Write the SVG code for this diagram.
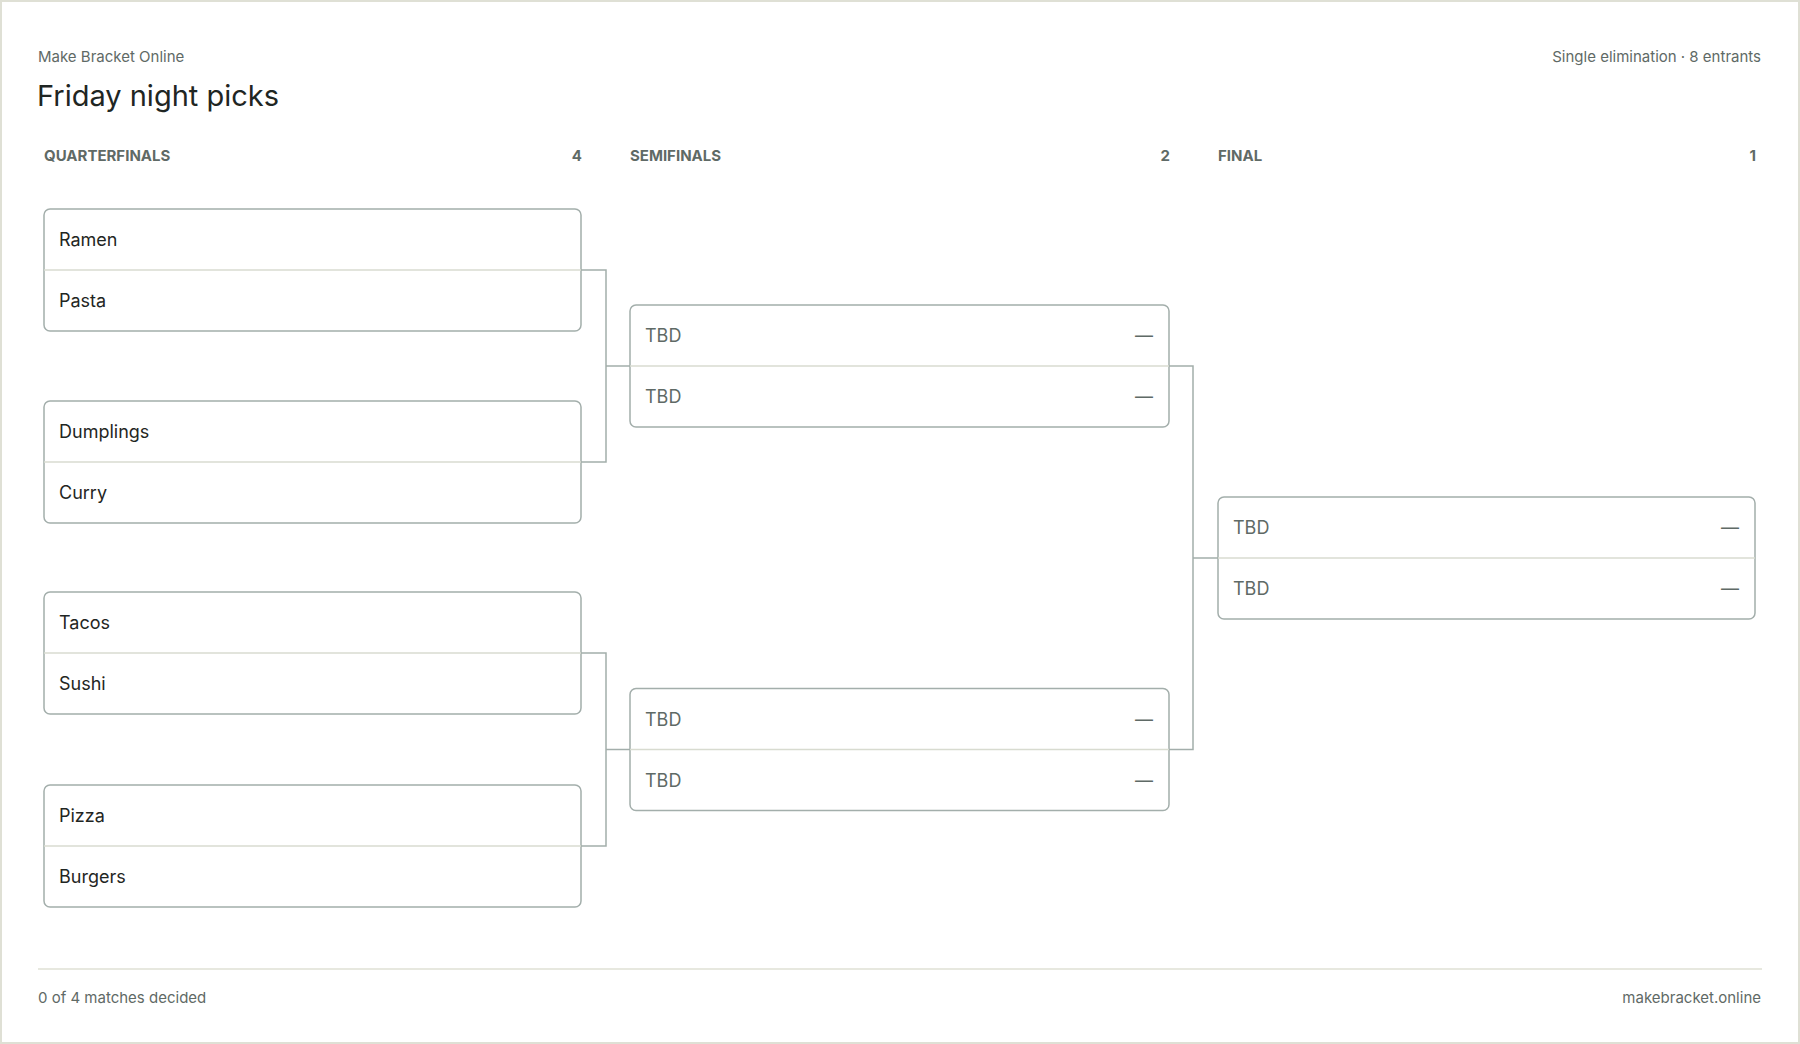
<svg xmlns="http://www.w3.org/2000/svg" width="1800" height="1044" viewBox="0 0 1800 1044">
<style>
text{font-family:"Inter","Liberation Sans",sans-serif}
.box{fill:#fff;stroke:#a3aeab;stroke-width:1.5}
.div{stroke:#d8dbd0;stroke-width:1.5}
.n{font-size:18px;fill:#1f2623}
.t{font-size:18px;fill:#5f6a66}
.h{font-size:15px;font-weight:bold;fill:#5f6a66}
.s{font-size:15px;fill:#5f6a66}
.c{fill:none;stroke:#a3aeab;stroke-width:1.5}
</style>
<rect x="1" y="1" width="1798" height="1042" fill="#fff" stroke="#dfe0d5" stroke-width="2"/>
<text x="38" y="62" class="s">Make Bracket Online</text>
<text x="1761" y="62" class="s" text-anchor="end">Single elimination · 8 entrants</text>
<text x="37" y="106" font-size="29" fill="#1f2623">Friday night picks</text>
<text x="44" y="161" class="h">QUARTERFINALS</text><text x="582" y="161" class="h" text-anchor="end">4</text>
<text x="630" y="161" class="h">SEMIFINALS</text><text x="1170" y="161" class="h" text-anchor="end">2</text>
<text x="1218" y="161" class="h">FINAL</text><text x="1756" y="161" class="h" text-anchor="end">1</text>
<g id="connectors">
<path class="c" d="M581 270H606V462H581M606 366H630"/>
<path class="c" d="M581 653H606V846H581M606 749.5H630"/>
<path class="c" d="M1169 366H1193V749.5H1169M1193 558H1218"/>
</g>
<g id="qf1"><rect class="box" x="44" y="209" width="537" height="122" rx="6"/><line class="div" x1="44" y1="270" x2="581" y2="270"/><text class="n" x="59" y="246">Ramen</text><text class="n" x="59" y="307">Pasta</text></g>
<g id="qf2"><rect class="box" x="44" y="401" width="537" height="122" rx="6"/><line class="div" x1="44" y1="462" x2="581" y2="462"/><text class="n" x="59" y="438">Dumplings</text><text class="n" x="59" y="499">Curry</text></g>
<g id="qf3"><rect class="box" x="44" y="592" width="537" height="122" rx="6"/><line class="div" x1="44" y1="653" x2="581" y2="653"/><text class="n" x="59" y="629">Tacos</text><text class="n" x="59" y="690">Sushi</text></g>
<g id="qf4"><rect class="box" x="44" y="785" width="537" height="122" rx="6"/><line class="div" x1="44" y1="846" x2="581" y2="846"/><text class="n" x="59" y="822">Pizza</text><text class="n" x="59" y="883">Burgers</text></g>
<g id="sf1"><rect class="box" x="630" y="305" width="539" height="122" rx="6"/><line class="div" x1="630" y1="366" x2="1169" y2="366"/><text class="t" x="645" y="342">TBD</text><text class="t" x="645" y="403">TBD</text><text class="t" x="1153" y="342" text-anchor="end">—</text><text class="t" x="1153" y="403" text-anchor="end">—</text></g>
<g id="sf2"><rect class="box" x="630" y="688.5" width="539" height="122" rx="6"/><line class="div" x1="630" y1="749.5" x2="1169" y2="749.5"/><text class="t" x="645" y="726">TBD</text><text class="t" x="645" y="787">TBD</text><text class="t" x="1153" y="726" text-anchor="end">—</text><text class="t" x="1153" y="787" text-anchor="end">—</text></g>
<g id="final"><rect class="box" x="1218" y="497" width="537" height="122" rx="6"/><line class="div" x1="1218" y1="558" x2="1755" y2="558"/><text class="t" x="1233" y="534">TBD</text><text class="t" x="1233" y="595">TBD</text><text class="t" x="1739" y="534" text-anchor="end">—</text><text class="t" x="1739" y="595" text-anchor="end">—</text></g>
<line x1="38" y1="969" x2="1762" y2="969" stroke="#dfe0d5" stroke-width="1.5"/>
<text x="38" y="1003" class="s">0 of 4 matches decided</text>
<text x="1761" y="1003" class="s" text-anchor="end">makebracket.online</text>
</svg>
